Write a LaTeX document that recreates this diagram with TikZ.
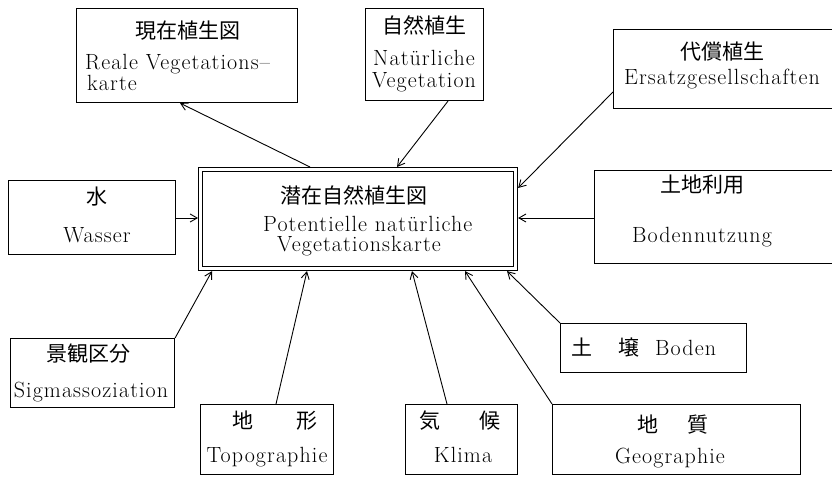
\documentclass[tikz,border=0pt]{standalone}
\usepackage{fontspec}
\setmainfont{Latin Modern Roman}[LetterSpace=5]
\newfontfamily\cjk{Noto Sans CJK JP}
\usetikzlibrary{arrows.meta}
\begin{document}
\begin{tikzpicture}[x=1pt,y=-1pt,
  box/.style={draw, line width=1.1pt, inner sep=0pt, anchor=north west},
  lat/.style={font=\fontsize{22}{26}\selectfont, inner sep=0pt, anchor=base},
  jp/.style={font=\fontsize{21}{24}\selectfont\cjk, inner sep=0pt},
  arr/.style={line width=0.9pt, -{Straight Barb[length=7pt,width=8pt]}}]
\useasboundingbox (0,0) rectangle (832,478);
% boxes
\node[box, minimum width=221pt, minimum height=94pt] (real) at (76,8) {};
\node[box, minimum width=118pt, minimum height=92pt] (nat) at (365,8) {};
\node[box, minimum width=221pt, minimum height=79pt] (ers) at (613,29) {};
\node[box, minimum width=319pt, minimum height=103pt] (cen) at (198,167) {};
\node[box, minimum width=311pt, minimum height=95pt] (ceni) at (202,171) {};
\node[box, minimum width=167pt, minimum height=74pt] (was) at (8,180) {};
\node[box, minimum width=240pt, minimum height=93pt] (bod) at (594,170) {};
\node[box, minimum width=164pt, minimum height=69pt] (sig) at (10,338) {};
\node[box, minimum width=133pt, minimum height=70pt] (top) at (200,404) {};
\node[box, minimum width=112pt, minimum height=70pt] (kli) at (405,404) {};
\node[box, minimum width=248pt, minimum height=70pt] (geo) at (552,404) {};
\node[box, minimum width=186pt, minimum height=49pt] (bon) at (560,323) {};
% texts
\node[jp] (t1a) at (188,31) {現在植生図};
\node[lat, anchor=base west] (t1b) at (85,70) {Reale Vegetations--};
\node[lat, anchor=base west] (t1c) at (87,91) {karte};
\node[jp] (t2a) at (424,25) {自然植生};
\node[lat] (t2b) at (424,66) {Natürliche};
\node[lat] (t2c) at (424,88) {Vegetation};
\node[jp] (t3a) at (722,52) {代償植生};
\node[lat] (t3b) at (722,85) {Ersatzgesellschaften};
\node[jp] (t4a) at (354,195) {潜在自然植生図};
\node[lat, anchor=base west] (t4b) at (263,232) {Potentielle natürliche};
\node[lat, anchor=base west] (t4c) at (277,252) {Vegetationskarte};
\node[jp] (t5a) at (97,197) {水};
\node[lat] (t5b) at (97,243) {Wasser};
\node[jp] (t6a) at (702,185) {土地利用};
\node[lat] (t6b) at (702,243) {Bodennutzung};
\node[jp] (t7a) at (88,354) {景観区分};
\node[lat] (t7b) at (91,397) {Sigmassoziation};
\node[jp] (t8a) at (275,421) {地\hspace{44pt}形};
\node[lat] (t8b) at (267,462) {Topographie};
\node[jp] (t9a) at (460,421) {気\hspace{40pt}候};
\node[lat] (t9b) at (463,462) {Klima};
\node[jp] (t10a) at (673,425) {地\hspace{30pt}質};
\node[lat] (t10b) at (670,463) {Geographie};
\node[anchor=base west, inner sep=0pt, font=\fontsize{22}{26}\selectfont] (t11) at (571,355) {{\cjk\fontsize{21}{24}\selectfont 土\hspace{26pt}壌}\hspace{16pt}Boden};
% connectors
\draw[arr] ([xshift=112pt]cen.north west) -- ([xshift=104pt]real.south west);
\draw[arr] ([xshift=83pt]nat.south west) -- ([xshift=199pt]cen.north west);
\draw[arr] ([yshift=-63pt]ers.north west) -- ([yshift=-21pt]cen.north east);
\draw[arr] ([yshift=-38pt]was.north east) -- ([yshift=-51pt]cen.north west);
\draw[arr] ([yshift=-48pt]bod.north west) -- ([yshift=-51pt]cen.north east);
\draw[arr] (sig.north east) -- ([xshift=14pt]cen.south west);
\draw[arr] ([xshift=76pt]top.north west) -- ([xshift=109pt]cen.south west);
\draw[arr] ([xshift=42pt]kli.north west) -- ([xshift=214pt]cen.south west);
\draw[arr] (geo.north west) -- ([xshift=267pt]cen.south west);
\draw[arr] (bon.north west) -- ([xshift=309pt]cen.south west);
\end{tikzpicture}
\end{document}
